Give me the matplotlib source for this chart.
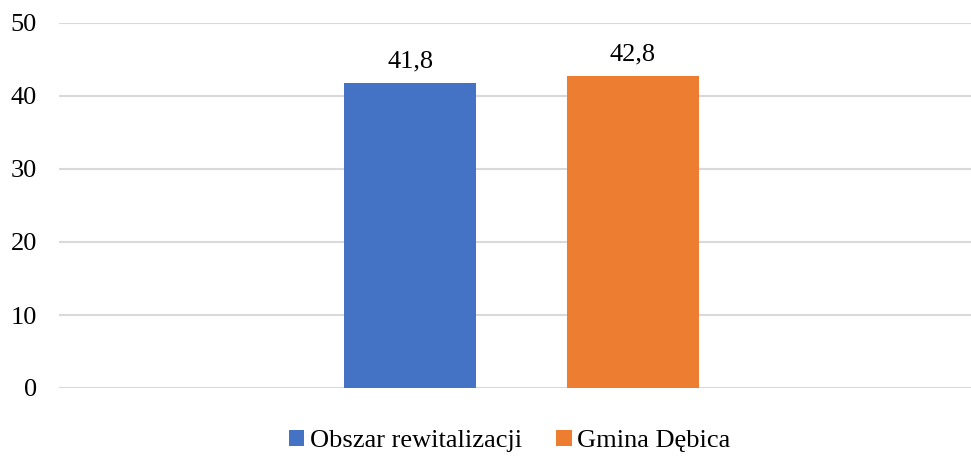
import matplotlib.pyplot as plt

plt.rcParams['font.family'] = ['Liberation Serif', 'DejaVu Serif']

# Data
series = ["Obszar rewitalizacji", "Gmina Dębica"]
values = [41.8, 42.8]
labels = ["41,8", "42,8"]
yticks = [0, 10, 20, 30, 40, 50]
colors = ["#4472C4", "#ED7D31"]
offsets = [-0.115, 0.129]
bar_width = 0.145

fig = plt.figure(figsize=(9.71, 4.57), dpi=100)
ax = fig.add_axes([59 / 971, 69 / 457, 912 / 971, 365 / 457])

for name, val, lab, col, off in zip(series, values, labels, colors, offsets):
    ax.bar(off, val, width=bar_width, color=col, label=name, zorder=3)
    ax.text(off, val + 1.4, lab, ha="center", va="bottom", fontsize=19)

ax.set_xlim(-0.5, 0.5)
ax.set_ylim(0, 50)
ax.set_yticks(yticks)
ax.set_xticks([])
ax.grid(axis="y", color="#d9d9d9", linewidth=1.5, zorder=0)
for s in ax.spines.values():
    s.set_visible(False)
ax.tick_params(axis="y", length=0, labelsize=19, pad=16)

ax.legend(loc="center", bbox_to_anchor=(0.494, -0.145), ncol=2, frameon=False,
          fontsize=19, handlelength=0.6, handleheight=0.6, handletextpad=0.2,
          columnspacing=1.3)

fig.savefig("out.png", dpi=100)
